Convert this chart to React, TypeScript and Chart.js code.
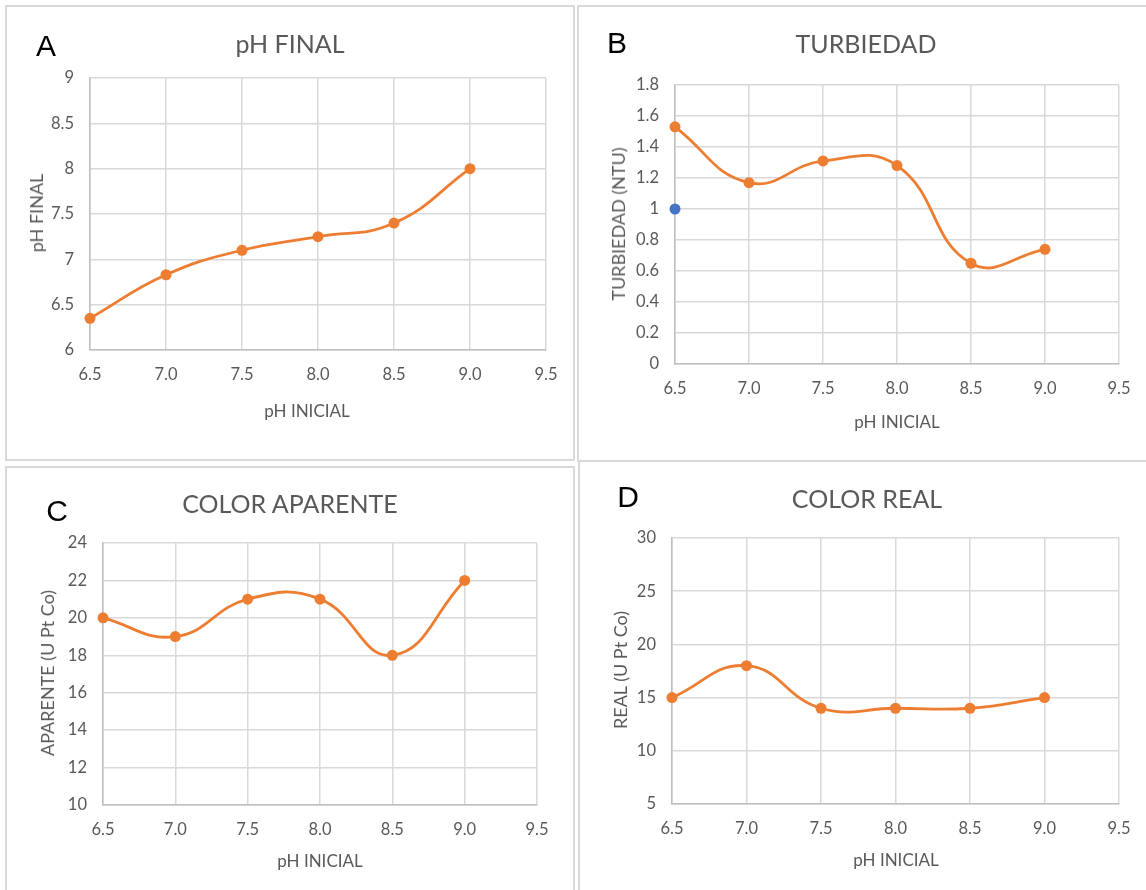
import React, { useEffect, useRef } from "react";
import { Chart, registerables } from "chart.js";

Chart.register(...registerables);

// ---------- data ----------
const phInicial = [6.5, 7.0, 7.5, 8.0, 8.5, 9.0];
const phFinal = [6.35, 6.83, 7.1, 7.25, 7.4, 8.0];
const turbiedad = [1.53, 1.17, 1.31, 1.28, 0.65, 0.74];
const turbiedadExtraX = [6.5];
const turbiedadExtraY = [1.0];
const colorAparente = [20, 19, 21, 21, 18, 22];
const colorReal = [15, 18, 14, 14, 14, 15];

const xAxisMin = 6.5;
const xAxisMax = 9.5;
const xAxisStep = 0.5;

const ORANGE = "#ED7D31";
const BLUE = "#4472C4";
const TEXT = "#595959";
const GRID = "#d9d9d9";
const FONT = "Lato, 'Open Sans', sans-serif";

type Rect = { l: number; t: number; r: number; b: number };
type Series = { xs: number[]; ys: number[]; color: string; line: boolean };

function LineChart(props: {
  plot: Rect;
  yMin: number;
  yMax: number;
  yStep: number;
  series: Series[];
}) {
  const ref = useRef<HTMLCanvasElement | null>(null);
  const { plot, yMin, yMax, yStep, series } = props;
  const padL = 10, padT = 32, padR = 30, padB = 10, yW = 60, xH = 40;
  const left = plot.l - padL - yW;
  const top = plot.t - padT;
  const width = plot.r - plot.l + padL + yW + padR;
  const height = plot.b - plot.t + padT + padB + xH;

  useEffect(() => {
    if (!ref.current) return;
    const datasets = series.map((s) => ({
      data: s.xs.map((x, i) => ({ x, y: s.ys[i] })),
      showLine: s.line,
      borderColor: s.color,
      backgroundColor: s.color,
      borderWidth: 2.8,
      pointRadius: 5.5,
      pointBorderWidth: 0,
      pointHoverRadius: 5.5,
      tension: 0.45,
      clip: false as any,
    }));
    const chart = new Chart(ref.current, {
      type: "scatter",
      data: { datasets },
      options: {
        animation: false,
        responsive: false,
        maintainAspectRatio: false,
        layout: { padding: { left: padL, top: padT, right: padR, bottom: padB } },
        plugins: { legend: { display: false }, tooltip: { enabled: false } },
        scales: {
          x: {
            type: "linear",
            min: xAxisMin,
            max: xAxisMax,
            ticks: {
              stepSize: xAxisStep,
              color: TEXT,
              font: { family: FONT, size: 16.5 },
              padding: 15,
              callback: (v: any) => Number(v).toFixed(1),
            },
            grid: { color: GRID, lineWidth: 1.5, drawTicks: false },
            border: { color: "#bfbfbf", width: 1.5 },
            afterFit: (s: any) => {
              s.height = xH;
            },
          },
          y: {
            type: "linear",
            min: yMin,
            max: yMax,
            ticks: {
              stepSize: yStep,
              color: TEXT,
              font: { family: FONT, size: 16.5 },
              padding: 16,
              callback: (v: any) => String(Number(Number(v).toFixed(2))),
            },
            grid: { color: GRID, lineWidth: 1.5, drawTicks: false },
            border: { color: "#bfbfbf", width: 1.5 },
            afterFit: (s: any) => {
              s.width = yW;
            },
          },
        },
      },
    });
    return () => chart.destroy();
  }, []);

  return (
    <canvas
      ref={ref}
      width={width}
      height={height}
      style={{ position: "absolute", left, top, width, height }}
    />
  );
}

function Txt(props: {
  x: number;
  y: number;
  text: string;
  size: number;
  color?: string;
  rotate?: boolean;
  family?: string;
}) {
  return (
    <div
      style={{
        position: "absolute",
        left: props.x,
        top: props.y,
        transform: `translate(-50%, -50%)${props.rotate ? " rotate(-90deg)" : ""}`,
        whiteSpace: "nowrap",
        fontFamily: props.family || FONT,
        fontSize: props.size,
        lineHeight: 1,
        color: props.color || TEXT,
      }}
    >
      {props.text}
    </div>
  );
}

function Box(props: { l: number; t: number; w: number; h: number }) {
  return (
    <div
      style={{
        position: "absolute",
        left: props.l,
        top: props.t,
        width: props.w,
        height: props.h,
        border: "2px solid #d9d9d9",
        boxSizing: "border-box",
      }}
    />
  );
}

const LETTER_FONT = "'Liberation Sans', Arial, sans-serif";

export default function App() {
  return (
    <div
      style={{
        position: "absolute",
        left: 0,
        top: 0,
        width: 1146,
        height: 890,
        background: "#fff",
        overflow: "hidden",
      }}
    >
      <Box l={5} t={5} w={570} h={456} />
      <Box l={577} t={5} w={600} h={457} />
      <Box l={5} t={466} w={570} h={500} />
      <Box l={578} t={460} w={600} h={500} />

      {/* A */}
      <LineChart
        plot={{ l: 90, t: 78, r: 546, b: 350 }}
        yMin={6}
        yMax={9}
        yStep={0.5}
        series={[{ xs: phInicial, ys: phFinal, color: ORANGE, line: true }]}
      />
      <Txt x={46} y={46} text="A" size={30} color="#000" family={LETTER_FONT} />
      <Txt x={290} y={43} text="pH FINAL" size={25} />
      <Txt x={36} y={213} text="pH FINAL" size={18} rotate />
      <Txt x={307} y={410} text="pH INICIAL" size={17} />

      {/* B */}
      <LineChart
        plot={{ l: 675, t: 85, r: 1119, b: 364 }}
        yMin={0}
        yMax={1.8}
        yStep={0.2}
        series={[
          { xs: phInicial, ys: turbiedad, color: ORANGE, line: true },
          { xs: turbiedadExtraX, ys: turbiedadExtraY, color: BLUE, line: false },
        ]}
      />
      <Txt x={617} y={43} text="B" size={30} color="#000" family={LETTER_FONT} />
      <Txt x={866} y={43} text="TURBIEDAD" size={25} />
      <Txt x={618} y={224} text="TURBIEDAD (NTU)" size={18} rotate />
      <Txt x={897} y={421} text="pH INICIAL" size={17} />

      {/* C */}
      <LineChart
        plot={{ l: 103, t: 543, r: 537, b: 805 }}
        yMin={10}
        yMax={24}
        yStep={2}
        series={[{ xs: phInicial, ys: colorAparente, color: ORANGE, line: true }]}
      />
      <Txt x={57} y={511} text="C" size={30} color="#000" family={LETTER_FONT} />
      <Txt x={290} y={503} text="COLOR APARENTE" size={25} />
      <Txt x={47} y={673} text="APARENTE (U Pt Co)" size={18} rotate />
      <Txt x={320} y={860} text="pH INICIAL" size={17} />

      {/* D */}
      <LineChart
        plot={{ l: 672, t: 538, r: 1119, b: 804 }}
        yMin={5}
        yMax={30}
        yStep={5}
        series={[{ xs: phInicial, ys: colorReal, color: ORANGE, line: true }]}
      />
      <Txt x={628} y={497} text="D" size={30} color="#000" family={LETTER_FONT} />
      <Txt x={867} y={498} text="COLOR REAL" size={25} />
      <Txt x={620} y={670} text="REAL (U Pt Co)" size={18} rotate />
      <Txt x={896} y={859} text="pH INICIAL" size={17} />
    </div>
  );
}
